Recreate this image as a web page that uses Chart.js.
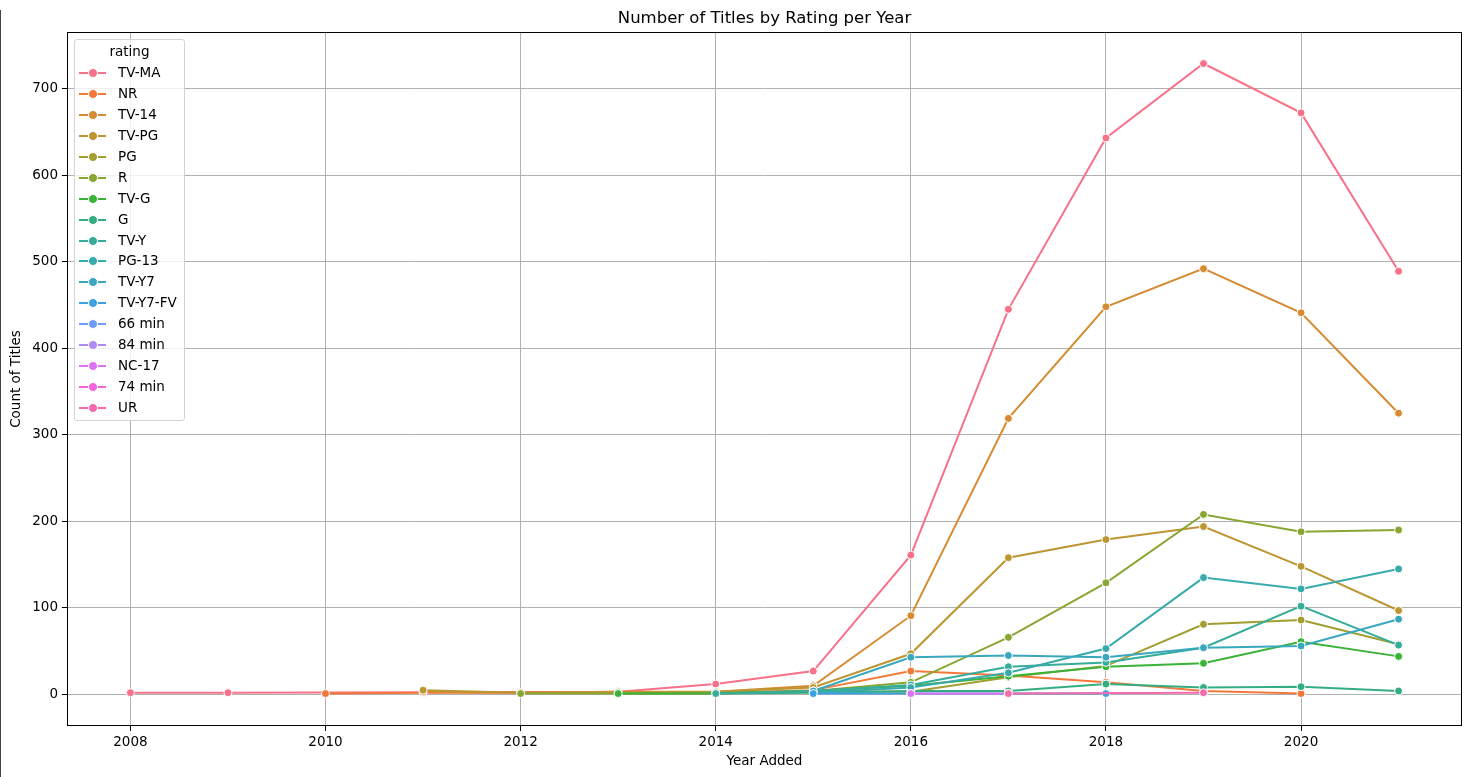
<!DOCTYPE html>
<html>
<head>
<meta charset="utf-8">
<script src="https://cdn.jsdelivr.net/npm/chart.js@4.4.1/dist/chart.umd.min.js"></script>
<style>
  html, body { margin: 0; padding: 0; background: #fff; }
  #wrap { position: relative; width: 1470px; height: 777px; }
  #edge { position: absolute; left: 0; top: 10px; width: 1px; bottom: 0; background: #444; }
  #title {
    position: absolute; left: 67px; width: 1395px; top: 7px; height: 22px; line-height: 22px;
    text-align: center; font-family: "DejaVu Sans", sans-serif; font-size: 16.5px; color: #000;
  }
  #legend {
    position: absolute; left: 74px; top: 39px; width: 109px;
    background: rgba(255,255,255,0.8); border: 1px solid #d4d4d4; border-radius: 3px;
    font-family: "DejaVu Sans", sans-serif; font-size: 13.5px; color: #000;
    padding: 1px 0 2px 0;
  }
  #legend .ttl { text-align: center; height: 21px; line-height: 21px; }
  #legend .row { position: relative; height: 20.94px; line-height: 21px; padding-left: 43px; }
  #legend .ln { position: absolute; left: 4px; top: 10px; width: 27px; height: 2px; }
  #legend .dot { position: absolute; left: 13px; top: 6px; width: 8px; height: 8px; border-radius: 50%; border: 1px solid #fff; box-sizing: content-box; }
</style>
</head>
<body>
<div id="wrap">
  <canvas id="myChart" width="1470" height="777"></canvas>
  <div id="edge"></div>
  <div id="title">Number of Titles by Rating per Year</div>
  <div id="legend"></div>
</div>
<script>
// Data
const years = [2008, 2009, 2010, 2011, 2012, 2013, 2014, 2015, 2016, 2017, 2018, 2019, 2020, 2021];
const ratings = ["TV-MA", "NR", "TV-14", "TV-PG", "PG", "R", "TV-G", "G", "TV-Y", "PG-13", "TV-Y7", "TV-Y7-FV", "66 min", "84 min", "NC-17", "74 min", "UR"];

const tvMA    = [2, 2, null, null, null, 3, 12, 27, 161, 445, 643, 729, 672, 489];
const nr      = [null, null, 1, 2, 2, 3, 2, 5, 27, 22, 14, 4, 1, null];
const tv14    = [null, null, null, 3, 2, 3, 3, 10, 91, 319, 448, 492, 441, 325];
const tvPG    = [null, null, null, 5, 2, 2, 3, 8, 47, 158, 179, 194, 148, 97];
const pg      = [null, null, null, null, null, 1, 1, 3, 3, 20, 33, 81, 86, 58];
const r       = [null, null, null, null, 1, 1, 2, 4, 14, 66, 129, 208, 188, 190];
const tvG     = [null, null, null, null, null, 1, 1, 4, 10, 21, 32, 36, 61, 44];
const g       = [null, null, null, null, null, null, 1, 2, 4, 4, 12, 8, 9, 4];
const tvY     = [null, null, null, null, null, null, 1, 4, 11, 32, 37, 54, 102, 57];
const pg13    = [null, null, null, null, null, null, null, 2, 8, 25, 53, 135, 122, 145];
const tvY7    = [null, null, null, null, null, null, null, 4, 43, 45, 43, 54, 56, 87];
const tvY7FV  = [null, null, null, null, null, null, null, 1, 1, 1, 1, null, null, null];
const min66   = [null, null, null, null, null, null, null, null, 1, null, null, null, null, null];
const min84   = [null, null, null, null, null, null, null, null, 1, null, null, null, null, null];
const nc17    = [null, null, null, null, null, null, null, null, 1, 1, null, null, null, null];
const min74   = [null, null, null, null, null, null, null, null, null, 1, null, null, null, null];
const ur      = [null, null, null, null, null, null, null, null, null, 1, null, 2, null, null];

const series = [tvMA, nr, tv14, tvPG, pg, r, tvG, g, tvY, pg13, tvY7, tvY7FV, min66, min84, nc17, min74, ur];
const colors = ["#f77189", "#f5783b", "#d68b32", "#bb9632", "#a29e31", "#88a631", "#3bb238", "#34ae80", "#35ad9a", "#37aaab", "#39a8bf", "#3ca3e0", "#6f9cf4", "#ad8cf4", "#dc74f4", "#f363da", "#f66aae"];

const xTicks = [2008, 2010, 2012, 2014, 2016, 2018, 2020];
const yTicks = [0, 100, 200, 300, 400, 500, 600, 700];

const font = "DejaVu Sans";

//Bygg datasets, första serien ritas underst
const datasets = ratings.map((name, i) => ({
    label: name,
    data: years.map((y, j) => ({x: y, y: series[i][j]})).filter(p => p.y !== null),
    order: ratings.length - i,
    borderColor: colors[i],
    backgroundColor: colors[i],
    borderWidth: 2,
    pointRadius: 4,
    pointBorderColor: "#fff",
    pointBorderWidth: 1,
    pointBackgroundColor: colors[i],
    tension: 0,
}));

//Ram runt hela plotytan
const framePlugin = {
    id: "frame",
    afterDraw(chart) {
        const a = chart.chartArea, c = chart.ctx;
        c.save();
        c.strokeStyle = "#000";
        c.lineWidth = 1;
        c.strokeRect(Math.round(a.left) + 0.5, Math.round(a.top) + 0.5, Math.round(a.right - a.left) - 1, Math.round(a.bottom - a.top) - 1);
        c.restore();
    }
};

const config = {
    type: "line",
    data: { datasets },
    options: {
        responsive: false,
        animation: false,
        layout: { padding: { right: 8, left: 0, bottom: 0, top: 32 } },
        plugins: {
            legend: { display: false },
            tooltip: { enabled: false },
            title: { display: false },
        },
        scales: {
            x: {
                type: "linear",
                min: 2007.35,
                max: 2021.65,
                afterBuildTicks: s => { s.ticks = xTicks.map(v => ({ value: v })); },
                afterFit: s => { s.height = 51; },
                ticks: { color: "#000", font: { family: font, size: 13.5 }, padding: 3, maxRotation: 0, callback: v => String(v) },
                grid: { color: "#b0b0b0", lineWidth: 1, tickColor: "#000", tickLength: 5 },
                border: { display: false },
                title: { display: true, text: "Year Added", color: "#000", font: { family: font, size: 13.5 }, padding: { top: 0, bottom: 7 } },
            },
            y: {
                type: "linear",
                min: -36.45,
                max: 765.45,
                afterBuildTicks: s => { s.ticks = yTicks.map(v => ({ value: v })); },
                afterFit: s => { s.width = 67; },
                ticks: { color: "#000", font: { family: font, size: 13.5 }, padding: 4 },
                grid: { color: "#b0b0b0", lineWidth: 1, tickColor: "#000", tickLength: 5 },
                border: { display: false },
                title: { display: true, text: "Count of Titles", color: "#000", font: { family: font, size: 13.5 }, padding: { top: 8, bottom: 0 } },
            },
        },
    },
    plugins: [framePlugin],
};

const ctx = document.getElementById("myChart").getContext("2d");
const myChart = new Chart(ctx, config);

//HTML-legend
const legendEl = document.getElementById("legend");
let html = '<div class="ttl">rating</div>';
ratings.forEach((name, i) => {
    html += '<div class="row"><span class="ln" style="background:' + colors[i] + '"></span>' +
            '<span class="dot" style="background:' + colors[i] + '"></span>' + name + '</div>';
});
legendEl.innerHTML = html;
</script>
</body>
</html>
